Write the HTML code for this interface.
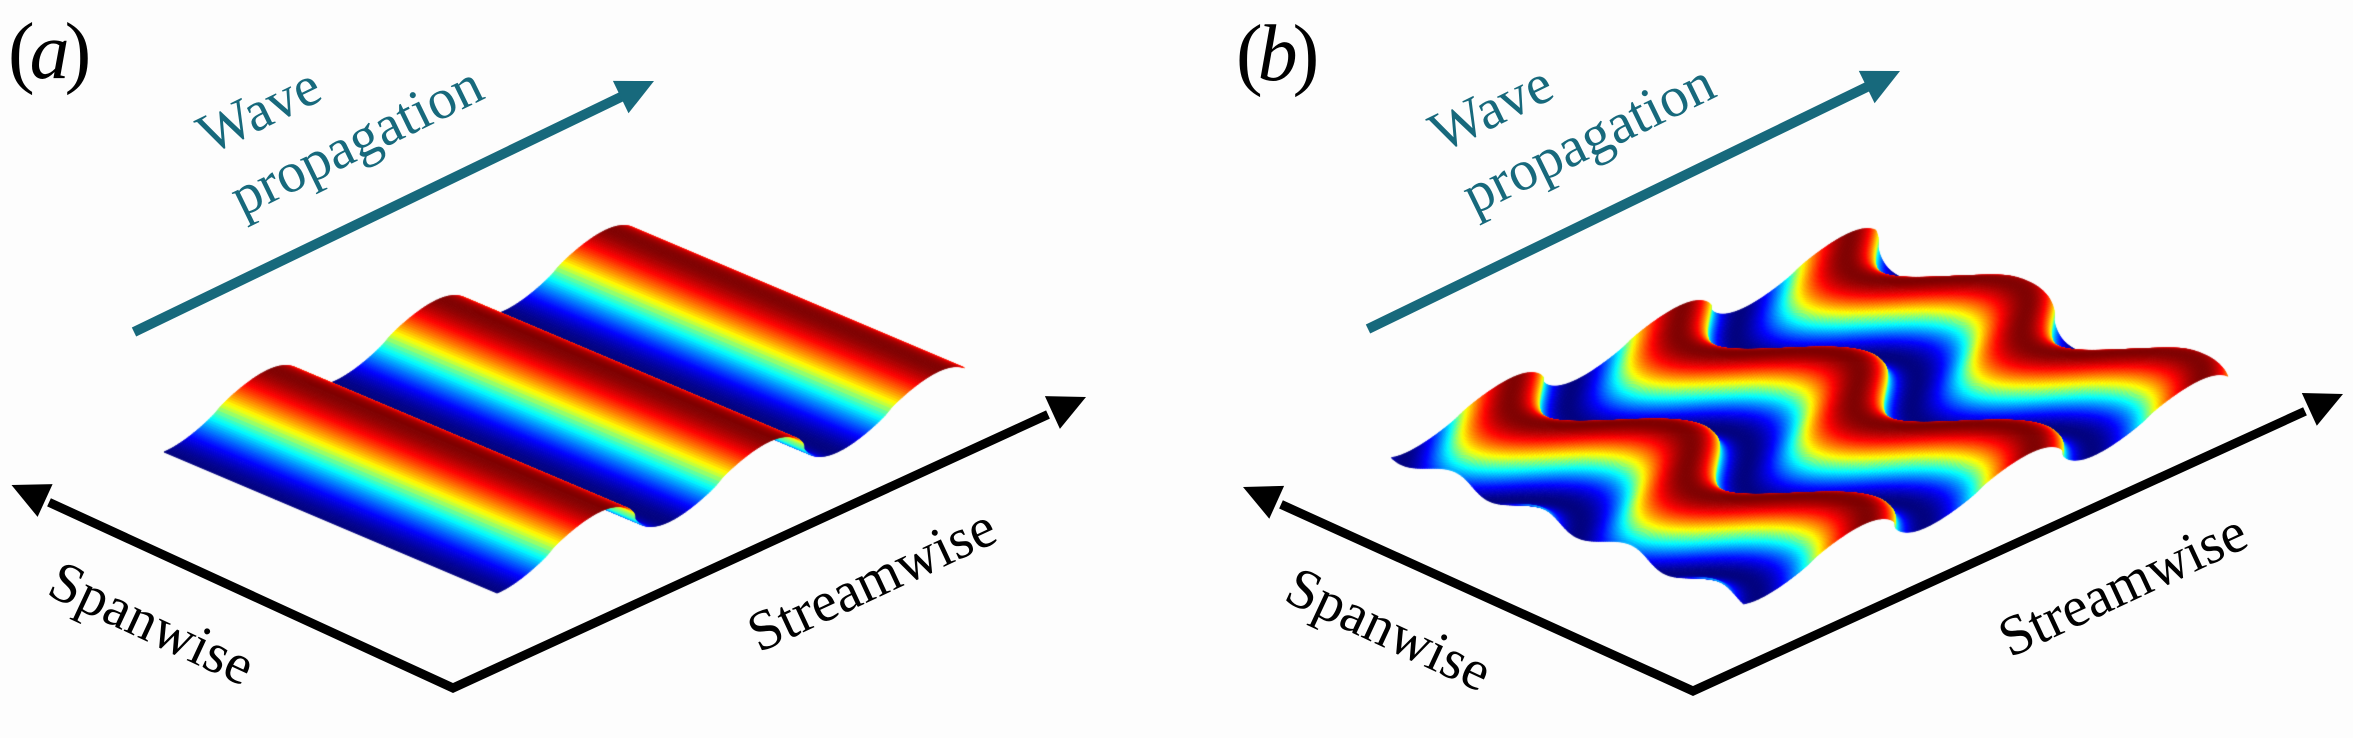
<!DOCTYPE html>
<html><head><meta charset="utf-8">
<style>
html,body{margin:0;padding:0;background:#fdfdfd;}
#wrap{position:relative;width:2353px;height:738px;overflow:hidden;background:#fdfdfd;}
canvas,svg{position:absolute;left:0;top:0;}
text{font-family:"Liberation Serif","Times New Roman",serif;}
</style></head><body>
<div id="wrap">
<canvas id="c" width="2353" height="738"></canvas>
<svg width="2353" height="738" viewBox="0 0 2353 738" xmlns="http://www.w3.org/2000/svg">
  <!-- Panel a -->
  <text x="8" y="78" font-size="80" fill="#000" letter-spacing="-5">(<tspan font-style="italic">a</tspan>)</text>
  <line x1="134" y1="332" x2="625" y2="95" stroke="#17697c" stroke-width="10"/>
  <polygon points="654,81 612.9,80.9 628.5,113.3" fill="#17697c"/>
  <g transform="translate(242,217) rotate(-26)" fill="#17697c" font-size="57">
    <text x="0" y="0">propagation</text>
    <text x="-2" y="-70">Wave</text>
  </g>
  <polyline points="49,502.3 453,688 1048,414.5" fill="none" stroke="#000" stroke-width="9" stroke-linejoin="miter" stroke-miterlimit="10"/>
  <polygon points="11.5,485 52.6,484.1 37.6,516.9" fill="#000"/>
  <polygon points="1086,397 1044.9,396.1 1059.9,428.9" fill="#000"/>
  <text transform="translate(45,594) rotate(25)" font-size="57" fill="#000">Spanwise</text>
  <text transform="translate(759,653) rotate(-25)" font-size="57" fill="#000">Streamwise</text>

  <!-- Panel b -->
  <text x="1236" y="80" font-size="80" fill="#000" letter-spacing="-5">(<tspan font-style="italic">b</tspan>)</text>
  <line x1="1368" y1="329" x2="1871" y2="85" stroke="#17697c" stroke-width="10"/>
  <polygon points="1900,71 1858.8,70.9 1874.6,103.3" fill="#17697c"/>
  <g transform="translate(1474,215) rotate(-26)" fill="#17697c" font-size="57">
    <text x="0" y="0">propagation</text>
    <text x="-2" y="-70">Wave</text>
  </g>
  <polyline points="1281,504.4 1693,691 2305,411.3" fill="none" stroke="#000" stroke-width="9" stroke-linejoin="miter" stroke-miterlimit="10"/>
  <polygon points="1243,487 1284.1,485.9 1269.3,518.7" fill="#000"/>
  <polygon points="2343,394 2301.8,393 2316.8,425.8" fill="#000"/>
  <text transform="translate(1282,600) rotate(25)" font-size="57" fill="#000">Spanwise</text>
  <text transform="translate(2010,658) rotate(-25)" font-size="57" fill="#000">Streamwise</text>
</svg>
</div>
<script>
(function(){
  var cv=document.getElementById('c'),ctx=cv.getContext('2d');
  function cl(x){return x<0?0:(x>1?1:x);}
  function jet(v){
    var r=cl(1.5-Math.abs(4*v-3)),g=cl(1.5-Math.abs(4*v-2)),b=cl(1.5-Math.abs(4*v-1));
    return 'rgb('+Math.round(r*255)+','+Math.round(g*255)+','+Math.round(b*255)+')';
  }
  function surf(O,S,W,H,s0,s1,ns,nw,hf){
    var X=[],Y=[],Hv=[],i,j;
    for(i=0;i<=ns;i++){
      X[i]=[];Y[i]=[];Hv[i]=[];
      var s=s0+(s1-s0)*i/ns;
      for(j=0;j<=nw;j++){
        var w=j/nw,h=hf(s,w);
        X[i][j]=O[0]+s*S[0]+w*W[0]+h*H[0];
        Y[i][j]=O[1]+s*S[1]+w*W[1]+h*H[1];
        Hv[i][j]=h;
      }
    }
    var det=S[0]*W[1]-S[1]*W[0];
    var vs=(H[0]*W[1]-H[1]*W[0])/det, vw=(S[0]*H[1]-S[1]*H[0])/det;
    var cells=[];
    for(i=0;i<ns;i++)for(j=0;j<nw;j++){
      var sc=s0+(s1-s0)*(i+0.5)/ns,wc=(j+0.5)/nw;
      cells.push([vs*sc+vw*wc,i,j]);
    }
    cells.sort(function(a,b){return b[0]-a[0];});
    ctx.lineWidth=1;ctx.lineJoin='round';
    for(var k=0;k<cells.length;k++){
      i=cells[k][1];j=cells[k][2];
      var hh=(Hv[i][j]+Hv[i+1][j]+Hv[i][j+1]+Hv[i+1][j+1])/4;
      var c=jet(hh);
      ctx.beginPath();
      ctx.moveTo(X[i][j],Y[i][j]);
      ctx.lineTo(X[i+1][j],Y[i+1][j]);
      ctx.lineTo(X[i+1][j+1],Y[i+1][j+1]);
      ctx.lineTo(X[i][j+1],Y[i][j+1]);
      ctx.closePath();
      ctx.fillStyle=c;ctx.strokeStyle=c;
      ctx.fill();ctx.stroke();
    }
  }
  var TP=2*Math.PI, GAM=0.75;
  function prof(x){
    var p=-Math.cos(TP*x);
    var a=Math.pow(Math.abs(p),GAM);
    return 0.5+0.5*(p<0?-a:a);
  }
  function ha(s,w){return prof(s);}
  function hb(s,w){
    var sc=0.5+0.2*Math.cos(4*Math.PI*(w-0.09));
    return prof(s-sc+0.5);
  }
  surf([497,593],[169,-70],[-333,-141],[22,-48],0,2.66,330,6,ha);
  surf([1742,606],[168,-72],[-352,-146],[26,-41],0,2.78,340,190,hb);
})();
</script>
</body></html>
